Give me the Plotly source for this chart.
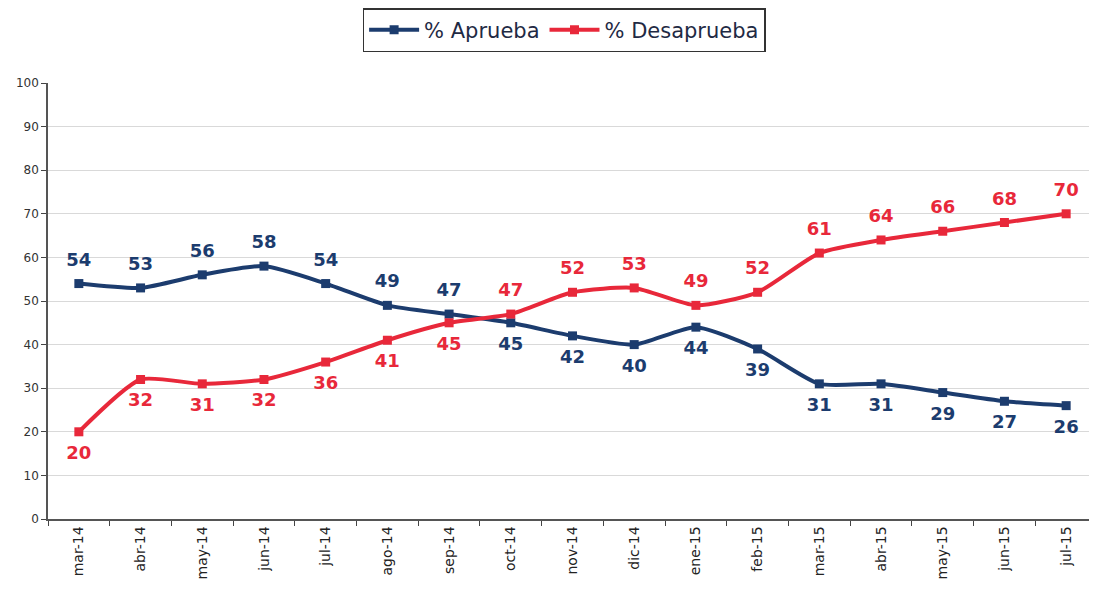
import plotly.graph_objects as go

meses = ["mar-14", "abr-14", "may-14", "jun-14", "jul-14", "ago-14", "sep-14", "oct-14", "nov-14",
         "dic-14", "ene-15", "feb-15", "mar-15", "abr-15", "may-15", "jun-15", "jul-15"]
aprueba = [54, 53, 56, 58, 54, 49, 47, 45, 42, 40, 44, 39, 31, 31, 29, 27, 26]
desaprueba = [20, 32, 31, 32, 36, 41, 45, 47, 52, 53, 49, 52, 61, 64, 66, 68, 70]

azul = "#1c3c6e"
rojo = "#e8283a"

# labels above or below the point
pos_aprueba = ["top center"] * 7 + ["bottom center"] * 10
pos_desaprueba = ["bottom center"] * 7 + ["top center"] * 10

fig = go.Figure()
for nombre, valores, color, pos in [("% Aprueba", aprueba, azul, pos_aprueba),
                                    ("% Desaprueba", desaprueba, rojo, pos_desaprueba)]:
    fig.add_trace(go.Scatter(
        x=meses, y=valores, name=nombre, mode="lines+markers",
        line=dict(color=color, width=4, shape="spline", smoothing=0.6),
        marker=dict(symbol="square", size=9, color=color),
    ))
    # value labels, pushed away from the line with a bigger invisible marker
    fig.add_trace(go.Scatter(
        x=meses, y=valores, mode="markers+text", showlegend=False, hoverinfo="skip",
        marker=dict(size=20, color="rgba(0,0,0,0)"),
        text=[str(v) for v in valores], textposition=pos,
        textfont=dict(family="DejaVu Sans", size=18, color=color, weight="bold"),
        cliponaxis=False,
    ))

# body has an 8px margin in the page, so the figure is a bit smaller than the window
fig.update_layout(
    width=1089, height=593,
    margin=dict(l=40, r=0, t=75, b=82),
    paper_bgcolor="white", plot_bgcolor="white",
    showlegend=True,
    legend=dict(orientation="h", x=0.492, xanchor="center", y=1.172, yanchor="top",
                bordercolor="#333333", borderwidth=1.5,
                font=dict(family="DejaVu Sans", size=21, color="#1f2a44"),
                itemwidth=50, tracegroupgap=30),
    xaxis=dict(range=[-0.5, 16.5], tickangle=-90, tickson="boundaries", ticks="outside", ticklen=5,
               showline=True, linecolor="#555555", linewidth=1.5, showgrid=False,
               automargin=False,
               tickfont=dict(family="DejaVu Sans", size=14, color="#222222")),
    yaxis=dict(range=[0, 100], dtick=10, ticks="outside", ticklen=5,
               showline=True, linecolor="#555555", linewidth=1.5,
               gridcolor="#d9d9d9", zeroline=False, automargin=False,
               tickfont=dict(family="DejaVu Sans", size=12, color="#333333")),
)

fig.write_html("out.html")
